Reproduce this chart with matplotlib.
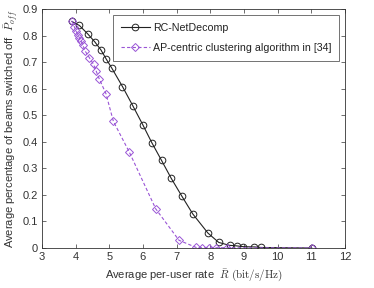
import matplotlib
matplotlib.use("Agg")
import matplotlib.pyplot as plt

rc_x = [3.89, 4.11, 4.36, 4.57, 4.75, 4.91, 5.07, 5.39, 5.70, 5.99, 6.26, 6.55, 6.84,
        7.15, 7.48, 7.93, 8.25, 8.57, 8.78, 8.98, 9.31, 9.50, 11.01]
rc_y = [0.853, 0.838, 0.806, 0.776, 0.746, 0.711, 0.678, 0.608, 0.535, 0.465, 0.397,
        0.330, 0.262, 0.196, 0.128, 0.056, 0.021, 0.010, 0.008, 0.005, 0.004, 0.002, 0.0]

ap_x = [3.89, 3.96, 4.01, 4.06, 4.11, 4.16, 4.21, 4.28, 4.41, 4.53, 4.61, 4.70, 4.90,
        5.12, 5.59, 6.38, 7.07, 7.58, 7.74, 7.97, 8.17, 8.49, 11.01]
ap_y = [0.855, 0.833, 0.818, 0.803, 0.792, 0.780, 0.765, 0.742, 0.716, 0.692, 0.666,
        0.637, 0.581, 0.477, 0.362, 0.147, 0.029, 0.002, 0.001, 0.001, 0.001, 0.001, 0.0]

labels = ["RC-NetDecomp", "AP-centric clustering algorithm in [34]"]
xticks = [3, 4, 5, 6, 7, 8, 9, 10, 11, 12]
yticks = [0, 0.1, 0.2, 0.3, 0.4, 0.5, 0.6, 0.7, 0.8, 0.9]
ytick_labels = ["0", "0.1", "0.2", "0.3", "0.4", "0.5", "0.6", "0.7", "0.8", "0.9"]

plt.rcParams['font.family'] = ['Liberation Sans', 'DejaVu Sans']
plt.rcParams['mathtext.fontset'] = 'cm'

txt = '#333333'
fig = plt.figure(figsize=(3.74, 2.88), dpi=100)
ax = fig.add_axes([42/374, 1 - 248/288, (345-42)/374, (248-9)/288])

ax.plot(rc_x, rc_y, color='#222222', lw=0.8, marker='o', ms=4.8, mfc='none',
        mec='#222222', mew=0.7, label=labels[0])
ax.plot(ap_x, ap_y, color='#9a55d6', lw=0.8, ls='--', dashes=(3, 2), marker='D', ms=3.8,
        mfc='none', mec='#9a55d6', mew=0.7, label=labels[1])

ax.set_xlim(3, 12)
ax.set_ylim(0, 0.9)
ax.set_xticks(xticks)
ax.set_yticks(yticks)
ax.set_yticklabels(ytick_labels)
ax.tick_params(direction='in', top=True, right=True, labelsize=8, length=3,
               width=0.5, colors='#333333', labelcolor=txt, pad=3)
for s in ax.spines.values():
    s.set_linewidth(0.6)
    s.set_color('#333333')

ax.set_xlabel(r"Average per-user rate  $\bar{R}\ \mathrm{(bit/s/Hz)}$", fontsize=8,
              color=txt, labelpad=4)
ax.set_ylabel(r"Average percentage of beams switched off  $\bar{P}_{off}$", fontsize=8,
              color=txt, labelpad=1)

leg = ax.legend(loc='upper right', bbox_to_anchor=(0.981, 0.975), fontsize=7.7,
                frameon=True, fancybox=False, edgecolor='#333333', handlelength=2.7,
                borderpad=0.75, labelspacing=0.95, handletextpad=0.3, borderaxespad=0)
leg.get_frame().set_linewidth(0.6)
for t in leg.get_texts():
    t.set_color('#222222')

fig.savefig("out.png", dpi=100)
